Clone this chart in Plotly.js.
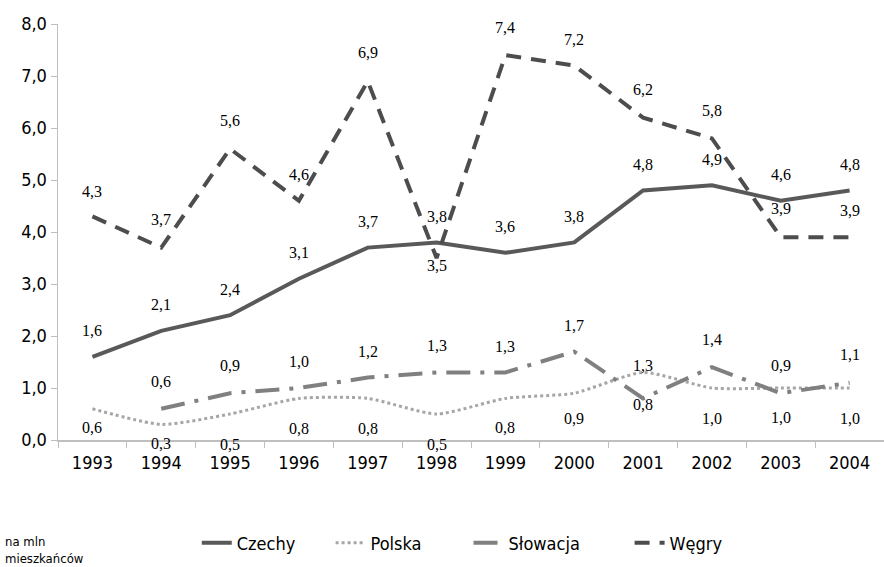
<!DOCTYPE html>
<html><head><meta charset="utf-8">
<script src="https://cdn.plot.ly/plotly-3.0.1.min.js"></script>
<style>body{margin:0;background:#fff}#chart{width:884px;height:567px}</style>
</head><body><div id="chart"></div>
<script>
const years = ['1993','1994','1995','1996','1997','1998','1999','2000','2001','2002','2003','2004'];
const czechy = [1.6,2.1,2.4,3.1,3.7,3.8,3.6,3.8,4.8,4.9,4.6,4.8];
const polska = [0.6,0.3,0.5,0.8,0.8,0.5,0.8,0.9,1.3,1.0,1.0,1.0];
const slowacja = [null,0.6,0.9,1.0,1.2,1.3,1.3,1.7,0.8,1.4,0.9,1.1];
const wegry = [4.3,3.7,5.6,4.6,6.9,3.5,7.4,7.2,6.2,5.8,3.9,3.9];
const seriesNames = ['Czechy','Polska','Słowacja','Węgry'];
const unitNote = 'na mln<br>mieszkańców';

// label offsets in px (positive = above point)
const labelShift = {
  'Czechy':   [26,26,26,26,26,26,26,26,26,26,26,26],
  'Polska':   [-19,-19,-30,-30,-30,-30,-29,-25,7,-30,-29,-30],
  'Słowacja': [0,27,28,27,26,27,26,26,-6,28,28,28],
  'Węgry':    [25,28,28,26,29,-7,28,26,28,28,29,27]
};
// legend placement (paper x) for each series
const legendX = {'Czechy':0.168,'Polska':0.330,'Słowacja':0.497,'Węgry':0.692};

const sans = '"DejaVu Sans Condensed", "Liberation Sans", sans-serif';
const serif = '"Liberation Serif", serif';

const styles = {
  'Czechy':   {color:'#595959', width:4, dash:'solid', shape:'linear'},
  'Polska':   {color:'#a6a6a6', width:3, dash:'dot', shape:'spline'},
  'Słowacja': {color:'#808080', width:4, dash:'24px,10px,4px,10px', shape:'linear'},
  'Węgry':    {color:'#4d4d4d', width:4, dash:'15px,10px', shape:'linear'}
};
const values = {'Czechy':czechy,'Polska':polska,'Słowacja':slowacja,'Węgry':wegry};
const legendIds = ['legend','legend2','legend3','legend4'];

const traces = seriesNames.map((n,k) => ({
  type:'scatter', mode:'lines', name:n, x:years, y:values[n], legend:legendIds[k],
  line:{color:styles[n].color, width:styles[n].width, dash:styles[n].dash, shape:styles[n].shape, smoothing:0.6},
  connectgaps:false, hoverinfo:'skip'
}));

const annotations = [];
seriesNames.forEach(n => {
  values[n].forEach((v,i) => {
    if (v === null) return;
    annotations.push({x:i, y:v, xref:'x', yref:'y', showarrow:false,
      text: v.toFixed(1).replace('.', ','), yshift: labelShift[n][i],
      font:{family:serif, size:16, color:'#000'}});
  });
});
annotations.push({xref:'paper', yref:'paper', x:-0.066, y:-0.265, xanchor:'left', yanchor:'middle',
  align:'left', showarrow:false, text:unitNote, font:{family:sans, size:13, color:'#000'}});

const layout = {
  width:884, height:567,
  margin:{l:58, r:0, t:24, b:127},
  paper_bgcolor:'#fff', plot_bgcolor:'#fff',
  separators:', ',
  showlegend:true,
  xaxis:{type:'category', range:[-0.5,11.5], tickson:'boundaries', ticks:'outside', ticklen:6,
    tickcolor:'#bfbfbf', showline:true, linecolor:'#bfbfbf', linewidth:1.5, showgrid:false,
    tickfont:{family:sans, size:18, color:'#000'}, ticklabelstandoff:6, fixedrange:true},
  yaxis:{range:[0,8], dtick:1, tickformat:'.1f', ticks:'outside', ticklen:6, tickcolor:'#bfbfbf',
    showline:true, linecolor:'#bfbfbf', linewidth:1.5, showgrid:false, zeroline:false,
    tickfont:{family:sans, size:18, color:'#000'}, fixedrange:true},
  annotations: annotations
};
seriesNames.forEach((n,k) => {
  layout[legendIds[k]] = {orientation:'h', x:legendX[n], xanchor:'left', y:-0.248, yanchor:'middle',
    font:{family:sans, size:18, color:'#000'}, bgcolor:'rgba(0,0,0,0)'};
});

Plotly.newPlot('chart', traces, layout, {displayModeBar:false, staticPlot:true});
</script>
</body></html>
